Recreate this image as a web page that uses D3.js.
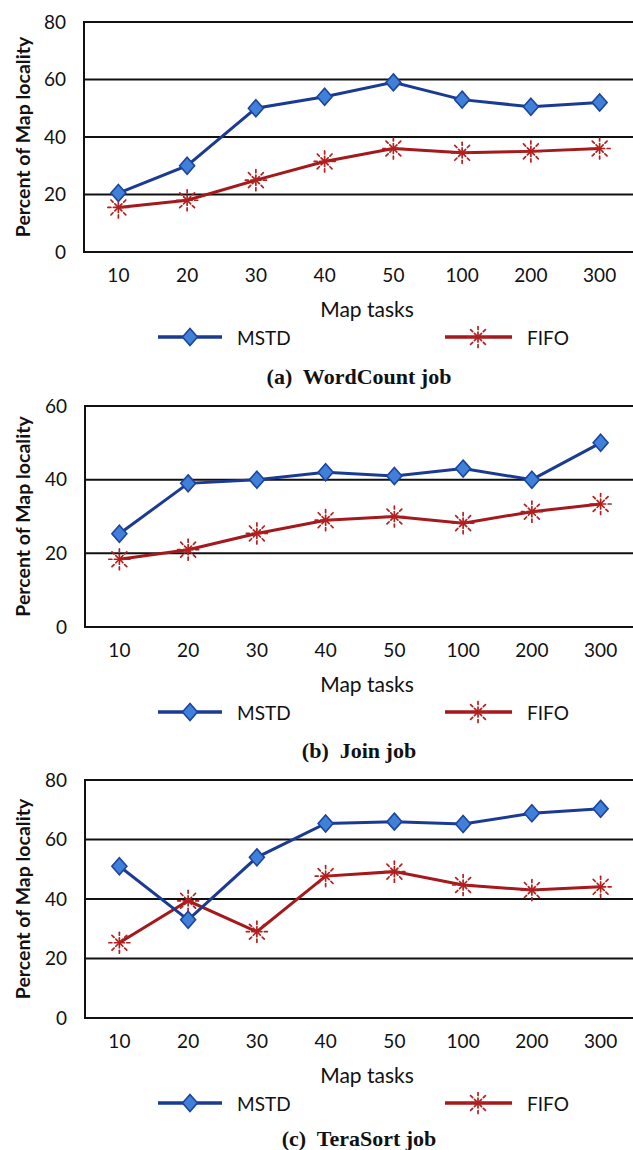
<!DOCTYPE html>
<html>
<head>
<meta charset="utf-8">
<script src="https://cdn.jsdelivr.net/npm/d3@7"></script>
<style>
  body { margin: 0; background: #fff; }
  text { font-family: Lato, "Open Sans", sans-serif; fill: #111; }
  .cap { font-family: "Liberation Serif", "DejaVu Serif", serif; font-weight: bold; white-space: pre; }
</style>
</head>
<body>
<div id="chart"></div>
<script>
// Map tasks on the x axis
var categories = ["10", "20", "30", "40", "50", "100", "200", "300"];

// (a) WordCount job
var wordCountMSTD = [20.5, 30, 50, 54, 59, 53, 50.5, 52];
var wordCountFIFO = [15.5, 18, 25, 31.5, 36, 34.5, 35, 36];
// (b) Join job
var joinMSTD = [25.3, 39, 40, 42, 41, 43, 40, 50];
var joinFIFO = [18.4, 21, 25.4, 29, 30, 28.2, 31.3, 33.4];
// (c) TeraSort job
var teraSortMSTD = [51, 33, 54, 65.4, 66, 65.2, 68.8, 70.3];
var teraSortFIFO = [25.3, 39.4, 29, 47.7, 49.2, 44.7, 43, 44.1];

var ticks80 = [0, 20, 40, 60, 80];
var ticks60 = [0, 20, 40, 60];

var seriesNames = ["MSTD", "FIFO"];
var captions = ["(a)  WordCount job", "(b)  Join job", "(c)  TeraSort job"];

var w = 633, h = 1150;
var blue = "#1b3a93", red = "#a3191c";

var svg = d3.select("#chart").append("svg")
    .attr("width", w)
    .attr("height", h);

function diamond(g, x, y) {
    g.append("path")
        .attr("d", "M0,-8.5L7.5,0L0,8.5L-7.5,0Z")
        .attr("transform", "translate(" + x + "," + y + ")")
        .attr("fill", "#3f80d8")
        .attr("stroke", "#1d449e")
        .attr("stroke-width", 1.6);
}

function asterisk(g, x, y) {
    var s = g.append("g").attr("transform", "translate(" + x + "," + y + ")")
        .attr("stroke", "#b3201f").attr("stroke-width", 1.7).attr("stroke-linecap", "round");
    for (let k = 0; k < 8; k++) {
        var a = k * Math.PI / 4;
        var c = Math.cos(a), sn = Math.sin(a);
        s.append("line").attr("x1", 0).attr("y1", 0).attr("x2", 5 * c).attr("y2", 5 * sn);
        s.append("line").attr("x1", 7.5 * c).attr("y1", 7.5 * sn).attr("x2", 10.5 * c).attr("y2", 10.5 * sn);
    }
}

function drawPanel(p) {
    var g = svg.append("g");

    var xScale = d3.scaleBand()
        .domain(categories)
        .range([p.left, p.left + 550]);

    var yScale = d3.scaleLinear()
        .domain([0, p.ymax])
        .range([p.bottom, p.top]);

    // grid lines
    g.selectAll(".grid")
        .data(p.ticks)
        .enter()
        .append("line")
        .attr("x1", p.left)
        .attr("x2", p.left + 550)
        .attr("y1", d => yScale(d))
        .attr("y2", d => yScale(d))
        .attr("stroke", "#111")
        .attr("stroke-width", 2);

    // left border
    g.append("line")
        .attr("x1", p.left).attr("x2", p.left)
        .attr("y1", p.top - 1).attr("y2", p.bottom + 1)
        .attr("stroke", "#111").attr("stroke-width", 2);

    // Y axis labels
    var yAxis = d3.axisLeft(yScale).tickValues(p.ticks).tickSize(0).tickPadding(18);
    var ya = g.append("g")
        .attr("transform", "translate(" + p.left + ",0)")
        .call(yAxis);
    ya.select(".domain").remove();
    ya.selectAll("text").style("font-size", "19px").attr("fill", "#111")
        .style("font-family", "Lato, sans-serif");

    // X axis labels
    var xAxis = d3.axisBottom(xScale).tickSize(0).tickPadding(17);
    var xa = g.append("g")
        .attr("transform", "translate(0," + p.bottom + ")")
        .call(xAxis);
    xa.select(".domain").remove();
    xa.selectAll("text").style("font-size", "19px").attr("fill", "#111")
        .style("font-family", "Lato, sans-serif");

    // axis titles
    g.append("text")
        .attr("transform", "translate(22," + ((p.top + p.bottom) / 2) + ") rotate(-90)")
        .attr("text-anchor", "middle")
        .attr("dominant-baseline", "central")
        .style("font-size", "19.5px")
        .style("font-weight", "bold")
        .text("Percent of Map locality");

    g.append("text")
        .attr("x", 367)
        .attr("y", p.bottom + 56)
        .attr("text-anchor", "middle")
        .attr("dominant-baseline", "central")
        .style("font-size", "21px")
        .text("Map tasks");

    var line = d3.line()
        .x((d, i) => xScale(categories[i]) + xScale.bandwidth() / 2)
        .y(d => yScale(d));

    // FIFO
    g.append("path")
        .datum(p.fifo)
        .attr("d", line)
        .attr("fill", "none")
        .attr("stroke", red)
        .attr("stroke-width", 3);

    // MSTD
    g.append("path")
        .datum(p.mstd)
        .attr("d", line)
        .attr("fill", "none")
        .attr("stroke", blue)
        .attr("stroke-width", 3);

    p.fifo.forEach(function(d, i) {
        asterisk(g, xScale(categories[i]) + xScale.bandwidth() / 2, yScale(d));
    });
    p.mstd.forEach(function(d, i) {
        diamond(g, xScale(categories[i]) + xScale.bandwidth() / 2, yScale(d));
    });

    // legend
    var ly = p.bottom + 85;
    g.append("line").attr("x1", 158).attr("x2", 222).attr("y1", ly).attr("y2", ly)
        .attr("stroke", blue).attr("stroke-width", 3.5);
    diamond(g, 190, ly);
    g.append("text").attr("x", 237).attr("y", ly).attr("dominant-baseline", "central")
        .style("font-size", "19px").text(seriesNames[0]);

    g.append("line").attr("x1", 445).attr("x2", 512).attr("y1", ly).attr("y2", ly)
        .attr("stroke", red).attr("stroke-width", 3.5);
    asterisk(g, 478, ly);
    g.append("text").attr("x", 527).attr("y", ly).attr("dominant-baseline", "central")
        .style("font-size", "19px").text(seriesNames[1]);

    // caption
    g.append("text")
        .attr("class", "cap")
        .attr("x", 359)
        .attr("y", p.capY)
        .attr("text-anchor", "middle")
        .attr("dominant-baseline", "central")
        .style("font-size", "22px")
        .text(p.caption);
}

drawPanel({top: 22, bottom: 252, left: 84, ymax: 80, ticks: ticks80,
           mstd: wordCountMSTD, fifo: wordCountFIFO, caption: captions[0], capY: 376});
drawPanel({top: 406, bottom: 627, left: 85, ymax: 60, ticks: ticks60,
           mstd: joinMSTD, fifo: joinFIFO, caption: captions[1], capY: 750});
drawPanel({top: 780, bottom: 1018, left: 85, ymax: 80, ticks: ticks80,
           mstd: teraSortMSTD, fifo: teraSortFIFO, caption: captions[2], capY: 1138});
</script>
</body>
</html>
